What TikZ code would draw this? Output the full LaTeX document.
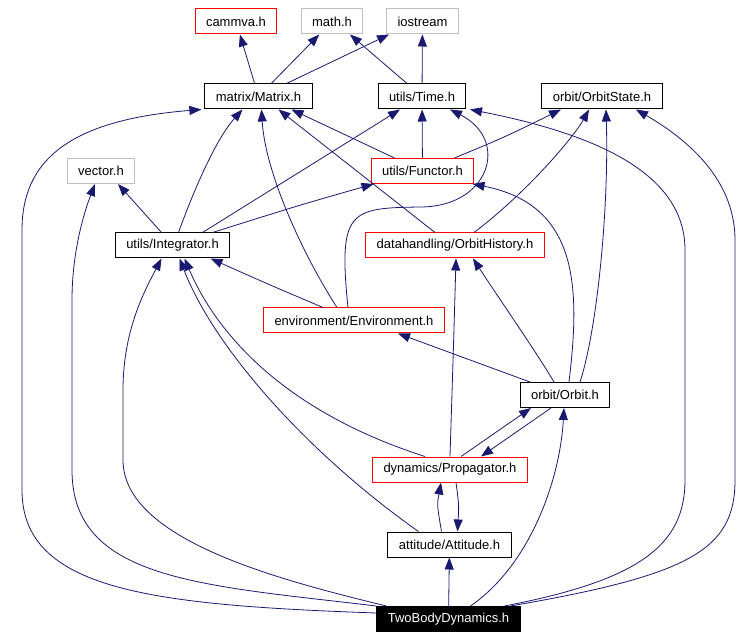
\documentclass[tikz,border=0pt]{standalone}
\usepackage{fontspec}
\setmainfont{Liberation Sans}
\usetikzlibrary{arrows.meta}
\definecolor{navy}{RGB}{25,25,112}
\definecolor{boxgray}{RGB}{191,191,191}
\newcommand{\dotfont}{\fontsize{13pt}{15pt}\selectfont}
\tikzset{
    every node/.style={rectangle, draw, line width=1pt, minimum height=25pt,
    	inner xsep=11pt, inner ysep=0pt, font=\dotfont}
}
\tikzset{
    sysfile/.style={draw=boxgray},
    redfile/.style={draw=red},
    topfile/.style={fill=black, text=white}
}
\tikzset{
	dep/.style={draw=navy, line width=.8pt, -{Triangle[length=12pt,width=9pt]}}
}

\begin{document}
\begin{tikzpicture}[x=1pt,y=-1pt]
	\useasboundingbox (0,0) rectangle (756,639);
	\node[redfile] (cam) at (236,21.5) {cammva.h};
	\node[sysfile] (math) at (332,21.5) {math.h};
	\node[sysfile] (ios) at (422.5,21.5) {iostream};
	\node (mat) at (258.5,96.5) {matrix/Matrix.h};
	\node (time) at (422,96.5) {utils/Time.h};
	\node (ostate) at (602,96.5) {orbit/OrbitState.h};
	\node[sysfile] (vec) at (101,171) {vector.h};
	\node[redfile] (func) at (422.5,171) {utils/Functor.h};
	\node (integ) at (172.5,245.5) {utils/Integrator.h};
	\node[redfile] (ohist) at (455,245.5) {datahandling/OrbitHistory.h};
	\node[redfile] (env) at (354,320.5) {environment/Environment.h};
	\node (orbit) at (565,395) {orbit/Orbit.h};
	\node[redfile] (prop) at (450,469.5) {dynamics/Propagator.h};
	\node (att) at (449.5,544.5) {attitude/Attitude.h};
	\node[topfile] (tbd) at (448.5,619) {TwoBodyDynamics.h};

	\draw[dep] (mat) -- (cam);
	\draw[dep] (mat) -- (math);
	\draw[dep] ([xshift=28pt]mat.north) -- ([xshift=3pt]ios.south west);
	\draw[dep] ([xshift=-15pt]time.north) -- ([xshift=18pt]math.south);
	\draw[dep] (time) -- (ios);
	\draw[dep] ([xshift=-28pt]func.north) -- ([xshift=33pt]mat.south);
	\draw[dep] (func) -- (time);
	\draw[dep] ([xshift=32pt]func.north) .. controls (505,137) .. ([xshift=-41pt]ostate.south);
	\draw[dep] ([xshift=-11pt]integ.north) -- ([xshift=17pt]vec.south);
	\draw[dep] ([xshift=6pt]integ.north) .. controls (192,195) and (215,140) .. ([xshift=-16pt]mat.south);
	\draw[dep] ([xshift=30pt]integ.north) -- ([xshift=-22pt]time.south);
	\draw[dep] ([xshift=40pt]integ.north) .. controls (300,205) .. ([xshift=3pt]func.south west);
	\draw[dep] ([xshift=-20pt]ohist.north) -- ([xshift=20pt]mat.south);
	\draw[dep] ([xshift=19pt]ohist.north) .. controls (530,190) and (575,135) .. ([xshift=-13pt]ostate.south);
	\draw[dep] ([xshift=-17pt]env.north) .. controls (300,250) and (265,170) .. ([xshift=3pt]mat.south);
	\draw[dep] ([xshift=-6pt]env.north) .. controls (338,210) and (350,208) .. (420,207)
		.. controls (490,207) and (510,140) .. ([xshift=28pt]time.south);
	\draw[dep] ([xshift=-31pt]env.north) .. controls (270,285) .. ([xshift=38pt]integ.south);
	\draw[dep] ([xshift=-35pt]orbit.north) -- ([xshift=44pt]env.south);
	\draw[dep] ([xshift=-11pt]orbit.north) .. controls (535,350) and (500,300) .. ([xshift=18pt]ohist.south);
	\draw[dep] ([xshift=4pt]orbit.north) .. controls (580,290) and (580,205) .. ([xshift=50pt]func.south);
	\draw[dep] ([xshift=15pt]orbit.north) .. controls (597,330) and (609,210) .. ([xshift=4pt]ostate.south);
	\draw[dep] ([xshift=-14pt]orbit.south) -- ([xshift=31pt]prop.north);
	\draw[dep] ([xshift=11pt]prop.north) -- ([xshift=-34pt]orbit.south);
	\draw[dep] ([xshift=-25pt]prop.north) .. controls (280,410) and (215,330) .. ([xshift=12pt]integ.south);
	\draw[dep] (prop.north) .. controls (454,330) .. ([xshift=1pt]ohist.south);
	\draw[dep] ([xshift=-8pt]att.north) .. controls (437,505) .. ([xshift=-9pt]prop.south);
	\draw[dep] ([xshift=6pt]prop.south) .. controls (459,505) .. ([xshift=8pt]att.north);
	\draw[dep] ([xshift=-31pt]att.north) .. controls (310,455) and (215,350) .. ([xshift=7pt]integ.south);
	\draw[dep] (tbd) -- (att);
	\draw[dep] ([xshift=22pt]tbd.north) .. controls (530,565) and (560,480) .. ([xshift=-1pt]orbit.south);
	\draw[dep] ([xshift=56pt]tbd.north) .. controls (640,580) and (685,545) .. (685,480) -- (685,250)
		.. controls (685,175) and (600,135) .. ([xshift=48pt]time.south);
	\draw[dep] ([xshift=62pt]tbd.north) .. controls (690,575) and (735,550) .. (735,480) -- (735,240)
		.. controls (735,175) and (680,135) .. ([xshift=34pt]ostate.south);
	\draw[dep] ([yshift=6pt]tbd.west) .. controls (150,605) and (22,590) .. (22,490) -- (22,230)
		.. controls (22,160) and (70,120) .. ([xshift=-3pt]mat.south west);
	\draw[dep] (tbd.north west) .. controls (200,585) and (72,580) .. (72,470) -- (72,300)
		.. controls (72,250) and (85,210) .. ([xshift=-6pt]vec.south);
	\draw[dep] ([xshift=10pt]tbd.north west) .. controls (280,580) and (123,540) .. (123,460) -- (123,390)
		.. controls (123,330) and (145,290) .. ([xshift=-11pt]integ.south);
\end{tikzpicture}
\end{document}
